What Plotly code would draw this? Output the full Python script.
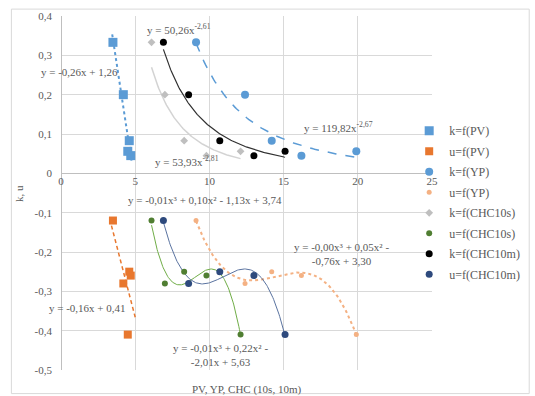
import numpy as np
import plotly.graph_objects as go

# ---- data ----
k_vals = [0.333, 0.2, 0.083, 0.045, 0.056]
u_vals = [-0.12, -0.28, -0.25, -0.26, -0.41]
PV = [3.5, 4.2, 4.6, 4.7, 4.5]
YP = [9.1, 12.4, 14.2, 16.2, 19.9]
CHC10s = [6.1, 7.0, 8.3, 9.8, 12.1]
CHC10m = [6.9, 8.6, 10.7, 13.0, 15.1]

x_ticks = [0, 5, 10, 15, 20, 25]
y_ticks = [0.4, 0.3, 0.2, 0.1, 0, -0.1, -0.2, -0.3, -0.4, -0.5]
y_ticktext = ["0,4", "0,3", "0,2", "0,1", "0", "-0,1", "-0,2", "-0,3", "-0,4", "-0,5"]

legend_names = ["k=f(PV)", "u=f(PV)", "k=f(YP)", "u=f(YP)",
                "k=f(CHC10s)", "u=f(CHC10s)", "k=f(CHC10m)", "u=f(CHC10m)"]

eq_labels = [
    ("y = -0,26x + 1,26", 1.27, 0.258),
    ("y = 50,26x<sup>-2,61</sup>", 7.93, 0.3675),
    ("y = 53,93x<sup>-2,81</sup>", 8.5, 0.0325),
    ("y = 119,82x<sup>-2,67</sup>", 18.7, 0.1175),
    ("y = -0,01x³ + 0,10x² - 1,13x + 3,74", 9.73, -0.0675),
    ("y = -0,16x + 0,41", 1.8, -0.3425),
    ("y = -0,01x³ + 0,22x² -<br>-2,01x + 5,63", 10.73, -0.461),
    ("y = -0,00x³ + 0,05x² -<br>-0,76x + 3,30", 18.93, -0.206),
]

FONT = "Liberation Serif"
TXT = "#595959"

BLUE = "#5B9BD5"
ORANGE = "#E8772E"
LORANGE = "#F4B183"
GREY = "#BFBFBF"
GREEN = "#507E32"
BLACK = "#000000"
NAVY = "#2E4A7D"


def power_fit(x, y):
    x = np.asarray(x, float); y = np.asarray(y, float)
    b, la = np.polyfit(np.log(x), np.log(y), 1)
    xs = np.linspace(x.min(), x.max(), 120)
    return xs, np.exp(la) * xs ** b


def poly_fit(x, y, deg, x0=None, x1=None):
    x = np.asarray(x, float); y = np.asarray(y, float)
    c = np.polyfit(x, y, deg)
    xs = np.linspace(x.min() if x0 is None else x0, x.max() if x1 is None else x1, 160)
    return xs, np.polyval(c, xs)


fig = go.Figure()

# ---- trendlines ----
tx, ty = poly_fit(PV, k_vals, 1, 3.45, 4.75)
fig.add_trace(go.Scatter(x=tx, y=ty, mode="lines", showlegend=False, hoverinfo="skip",
                         line=dict(color=BLUE, width=2, dash="dot")))
tx, ty = poly_fit(PV, u_vals, 1, 3.4, 5.0)
fig.add_trace(go.Scatter(x=tx, y=ty, mode="lines", showlegend=False, hoverinfo="skip",
                         line=dict(color=ORANGE, width=1.5, dash="4px,3px")))
tx, ty = power_fit(YP, k_vals)
fig.add_trace(go.Scatter(x=tx, y=ty, mode="lines", showlegend=False, hoverinfo="skip",
                         line=dict(color=BLUE, width=1.5, dash="dash")))
tx, ty = poly_fit(YP, u_vals, 3)
fig.add_trace(go.Scatter(x=tx, y=ty, mode="lines", showlegend=False, hoverinfo="skip",
                         line=dict(color=LORANGE, width=2, dash="dot")))
tx, ty = power_fit(CHC10s, k_vals)
fig.add_trace(go.Scatter(x=tx, y=ty, mode="lines", showlegend=False, hoverinfo="skip",
                         line=dict(color="#D3D3D3", width=1.5)))
tx, ty = poly_fit(CHC10s, u_vals, 3)
fig.add_trace(go.Scatter(x=tx, y=ty, mode="lines", showlegend=False, hoverinfo="skip",
                         line=dict(color="#70AD47", width=1)))
tx, ty = power_fit(CHC10m, k_vals)
fig.add_trace(go.Scatter(x=tx, y=ty, mode="lines", showlegend=False, hoverinfo="skip",
                         line=dict(color="#303030", width=1.2)))
tx, ty = poly_fit(CHC10m, u_vals, 3)
fig.add_trace(go.Scatter(x=tx, y=ty, mode="lines", showlegend=False, hoverinfo="skip",
                         line=dict(color="#5A73A0", width=1)))

# ---- markers ----
series = [
    (PV, k_vals, "square", 9, BLUE),
    (PV, u_vals, "square", 8, ORANGE),
    (YP, k_vals, "circle", 8, BLUE),
    (YP, u_vals, "circle", 5, LORANGE),
    (CHC10s, k_vals, "diamond", 6, GREY),
    (CHC10s, u_vals, "circle", 6, GREEN),
    (CHC10m, k_vals, "circle", 7, BLACK),
    (CHC10m, u_vals, "circle", 7, NAVY),
]
for name, (xs, ys, sym, sz, col) in zip(legend_names, series):
    fig.add_trace(go.Scatter(x=xs, y=ys, mode="markers", name=name, legendgroup=name,
                             marker=dict(symbol=sym, size=sz, color=col)))

for text, ax, ay in eq_labels:
    fig.add_annotation(x=ax, y=ay, text=text, showarrow=False,
                       font=dict(family=FONT, size=11, color=TXT))

# axis titles
fig.add_annotation(xref="paper", yref="paper", x=0.5, y=-0.03, yanchor="top",
                   text="PV, YP, CHC (10s, 10m)", showarrow=False,
                   font=dict(family=FONT, size=11, color=TXT))
fig.add_annotation(xref="paper", yref="paper", x=-0.135, y=0.5, textangle=-90,
                   text="k, u", showarrow=False,
                   font=dict(family=FONT, size=11, color=TXT))

# chart frame
L, R, T, B = 61, 435, 10, 370
def px2x(p):
    return (p - L) / (R - L)
def py2y(p):
    return (B - p) / (B - T)
fig.add_shape(type="rect", xref="paper", yref="paper",
              x0=px2x(11), x1=px2x(533), y0=py2y(394), y1=py2y(3),
              line=dict(color="#D9D9D9", width=1), layer="below")

fig.update_layout(
    width=535, height=396,
    margin=dict(l=L, r=535 - R, t=T, b=396 - B),
    paper_bgcolor="white", plot_bgcolor="white",
    font=dict(family=FONT, size=11, color=TXT),
    xaxis=dict(range=[0, 25], tickvals=x_ticks, ticktext=[str(v) for v in x_ticks],
               showgrid=True, gridcolor="#D9D9D9", gridwidth=1,
               zeroline=True, zerolinecolor="#BFBFBF", zerolinewidth=1,
               showline=False, ticks="", anchor="free", position=py2y(170),
               tickfont=dict(family=FONT, size=11, color=TXT)),
    yaxis=dict(range=[-0.5, 0.4], tickvals=y_ticks, ticktext=y_ticktext,
               showgrid=True, gridcolor="#D9D9D9", gridwidth=1,
               zeroline=True, zerolinecolor="#BFBFBF", zerolinewidth=1,
               showline=False, ticks="", ticklabelstandoff=8,
               tickfont=dict(family=FONT, size=11, color=TXT)),
    legend=dict(x=px2x(412), y=py2y(112), xanchor="left", yanchor="top",
                bgcolor="rgba(0,0,0,0)", font=dict(family=FONT, size=12, color=TXT),
                traceorder="grouped", tracegroupgap=1.5, itemwidth=30),
    showlegend=True,
)

fig.write_html("out.html")
